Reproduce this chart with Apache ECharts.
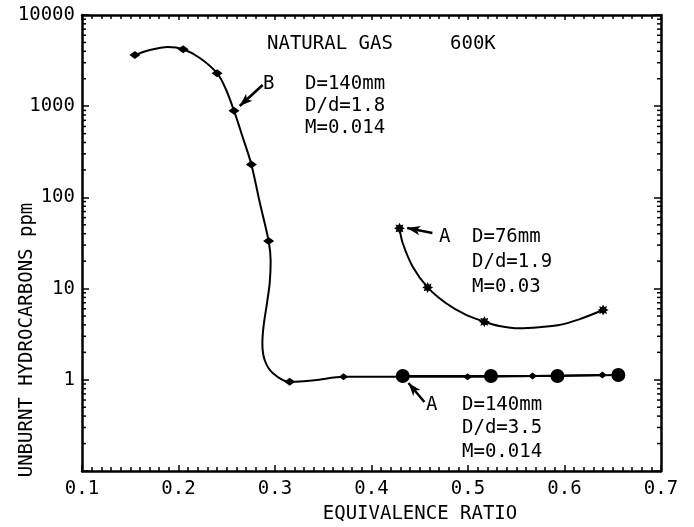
<!DOCTYPE html>
<html>
<head>
<meta charset="utf-8">
<script src="https://cdn.jsdelivr.net/npm/echarts@6/dist/echarts.min.js"></script>
<style>html,body{margin:0;padding:0;background:#fff;}#c{width:694px;height:527px;}</style>
</head>
<body>
<div id="c"></div>
<script>
// ---- data ----
const xTickLabels = ['0.1','0.2','0.3','0.4','0.5','0.6','0.7'];
const yTickLabels = ['1','10','100','1000','10000'];
const yMinorTicks = [0.2,0.3,0.4,0.5,0.6,0.7,0.8,0.9, 2,3,4,5,6,7,8,9, 20,30,40,50,60,70,80,90, 200,300,400,500,600,700,800,900, 2000,3000,4000,5000,6000,7000,8000,9000];

// series B (D=140mm, D/d=1.8) : drawn curve and markers
const curveBx = [0.1548,0.1703,0.1890,0.2048,0.2221,0.2400,0.2490,0.2575,0.2665,0.2755,0.2841,0.2934,0.2955,0.2945,0.2914,0.2883,0.2869,0.2893,0.2976,0.3152,0.3410,0.3710,0.4996,0.5669,0.6393];
const curveBy = [3640,4130,4460,4210,3380,2300,1545,893,459,230,89,33.3,20.0,11.5,6.6,4.0,2.54,1.65,1.19,0.953,0.99,1.08,1.08,1.10,1.13];
const markBUpperX = [0.1548,0.2048,0.2400,0.2575,0.2755,0.2934,0.3152];
const markBUpperY = [3640,4210,2300,893,230,33.3,0.953];
const markBLowerX = [0.3710,0.4996,0.5669,0.6393];
const markBLowerY = [1.08,1.08,1.10,1.13];

// series A (D=76mm, D/d=1.9)
const curveA76x = [0.4290,0.4324,0.4427,0.4582,0.4773,0.4980,0.5169,0.5324,0.5531,0.5738,0.5945,0.6152,0.6400];
const curveA76y = [45.8,31.4,17.4,10.3,6.9,5.14,4.33,3.89,3.67,3.77,3.99,4.60,5.82];
const markA76x = [0.4290,0.4582,0.5169,0.6400];
const markA76y = [45.8,10.3,4.33,5.82];

// series A (D=140mm, D/d=3.5)
const markA140x = [0.4324,0.5238,0.5927,0.6558];
const markA140y = [1.10,1.10,1.10,1.13];

// annotation arrows [x1,y1,x2,y2] (tail -> head) in data units
const arrowB = [0.2872,1706,0.2634,1004];
const arrowA76 = [0.4631,40.7,0.4370,46.1];
const arrowA140 = [0.4548,0.571,0.4383,0.922];

// ---- chart ----
const FONT = '"DejaVu Sans Mono", monospace';
const zip = (xs, ys) => xs.map((x, i) => [x, ys[i]]);
const chart = echarts.init(document.getElementById('c'), null, {renderer: 'canvas'});
const star = 'path://M20 10 L15.54 12.3 L17.07 17.07 L12.3 15.54 L10 20 L7.7 15.54 L2.93 17.07 L4.46 12.3 L0 10 L4.46 7.7 L2.93 2.93 L7.7 4.46 L10 0 L12.3 4.46 L17.07 2.93 L15.54 7.7 Z';
const arrowLine = a => [[{coord: [a[0], a[1]], symbol: 'none'}, {coord: [a[2], a[3]], symbol: 'arrow'}]];

const txt = (text, x, y, opts) => Object.assign({
  type: 'text', x: x, y: y, silent: true,
  style: {text: text, font: '19px ' + FONT, fill: '#000', align: 'left', verticalAlign: 'middle', textAlign: 'left', textVerticalAlign: 'middle'}
}, opts || {});

const axisLineStyle = {color: '#000', width: 2.5};
const markStyle = {color: '#000', opacity: 1};

chart.setOption({
  animation: false,
  backgroundColor: '#fff',
  grid: {left: 82, right: 33, top: 15, bottom: 56},
  xAxis: [{
    type: 'value', min: 0.1, max: 0.7, interval: 0.1, position: 'bottom',
    axisLine: {lineStyle: axisLineStyle},
    axisTick: {show: true, inside: true, length: 6, lineStyle: {color: '#000', width: 1.5}},
    minorTick: {show: true, splitNumber: 10, length: 4, lineStyle: {color: '#000', width: 1.5}},
    splitLine: {show: false},
    axisLabel: {margin: 9, color: '#000', fontFamily: FONT, fontSize: 19,
      formatter: v => { const s = v.toFixed(1); return xTickLabels.indexOf(s) >= 0 ? s : ''; }}
  }, {
    type: 'value', min: 0.1, max: 0.7, interval: 0.1, position: 'top',
    axisLine: {lineStyle: axisLineStyle},
    axisTick: {show: true, inside: true, length: 5, lineStyle: {color: '#000', width: 1.5}},
    minorTick: {show: true, splitNumber: 10, length: 4, lineStyle: {color: '#000', width: 1.5}},
    splitLine: {show: false},
    axisLabel: {show: false}
  }],
  yAxis: [{
    type: 'log', logBase: 10, min: 0.1, max: 10000, position: 'left',
    axisLine: {show: true, lineStyle: axisLineStyle},
    axisTick: {show: true, inside: true, length: 7, lineStyle: {color: '#000', width: 1.5}},
    splitLine: {show: false},
    axisLabel: {margin: 7, color: '#000', fontFamily: FONT, fontSize: 19,
      formatter: v => { const s = String(Math.round(v)); return (v >= 1 && yTickLabels.indexOf(s) >= 0) ? s : ''; }}
  }, {
    type: 'log', logBase: 10, min: 0.1, max: 10000, position: 'right',
    axisLine: {show: true, lineStyle: axisLineStyle},
    axisTick: {show: true, inside: true, length: 7, lineStyle: {color: '#000', width: 1.5}},
    splitLine: {show: false},
    axisLabel: {show: false}
  }],
  series: [
    {type: 'line', data: zip(curveBx, curveBy), smooth: 0.3, showSymbol: false, symbol: 'none',
     lineStyle: {color: '#000', width: 2}, silent: true, z: 3,
     markLine: {silent: true, symbolSize: [7, 13], label: {show: false}, lineStyle: {color: '#000', width: 2.5, type: 'solid', opacity: 1},
       data: arrowLine(arrowB).concat(arrowLine(arrowA76), arrowLine(arrowA140))}},
    {type: 'line', data: zip(curveA76x, curveA76y), smooth: 0.3, showSymbol: false, symbol: 'none',
     lineStyle: {color: '#000', width: 2}, silent: true, z: 3},
    {type: 'line', data: zip(markA140x, markA140y), smooth: false, showSymbol: false, symbol: 'none',
     lineStyle: {color: '#000', width: 2}, silent: true, z: 3},
    {type: 'scatter', data: zip(markBUpperX, markBUpperY), symbol: 'diamond', symbolSize: [11, 8],
     itemStyle: markStyle, silent: true, z: 4},
    {type: 'scatter', data: zip(markBLowerX, markBLowerY), symbol: 'diamond', symbolSize: [9, 7],
     itemStyle: markStyle, silent: true, z: 4},
    {type: 'scatter', data: zip(markA76x, markA76y), symbol: star, symbolSize: 11,
     itemStyle: markStyle, silent: true, z: 4},
    {type: 'scatter', data: zip(markA140x, markA140y), symbol: 'circle', symbolSize: 14,
     itemStyle: markStyle, silent: true, z: 4},
    {type: 'custom', coordinateSystem: 'cartesian2d', silent: true, z: 5, clip: false,
     data: yMinorTicks.map(v => [0.1, v]),
     encode: {x: 0, y: 1},
     renderItem: function (params, api) {
       const p = api.coord([0.1, api.value(1)]);
       const cs = params.coordSys;
       return {type: 'group', children: [
         {type: 'line', shape: {x1: cs.x, y1: p[1], x2: cs.x + 4, y2: p[1]}, style: {stroke: '#000', lineWidth: 1.5}},
         {type: 'line', shape: {x1: cs.x + cs.width, y1: p[1], x2: cs.x + cs.width - 4, y2: p[1]}, style: {stroke: '#000', lineWidth: 1.5}}
       ]};
     }}
  ],
  graphic: [
    txt('NATURAL GAS     600K', 267, 44),
    txt('B', 263, 84),
    txt('D=140mm', 305, 84),
    txt('D/d=1.8', 305, 106),
    txt('M=0.014', 305, 128),
    txt('A', 439, 237),
    txt('D=76mm', 472, 237),
    txt('D/d=1.9', 472, 262),
    txt('M=0.03', 472, 287),
    txt('A', 426, 405),
    txt('D=140mm', 462, 405),
    txt('D/d=3.5', 462, 428),
    txt('M=0.014', 462, 452),
    txt('EQUIVALENCE RATIO', 420, 514, {style: {text: 'EQUIVALENCE RATIO', font: '19px ' + FONT, fill: '#000', align: 'center', verticalAlign: 'middle', textAlign: 'center', textVerticalAlign: 'middle'}}),
    txt('UNBURNT HYDROCARBONS ppm', 27, 340, {rotation: Math.PI / 2, style: {text: 'UNBURNT HYDROCARBONS ppm', font: '19px ' + FONT, fill: '#000', align: 'center', verticalAlign: 'middle', textAlign: 'center', textVerticalAlign: 'middle'}})
  ]
});
</script>
</body>
</html>
